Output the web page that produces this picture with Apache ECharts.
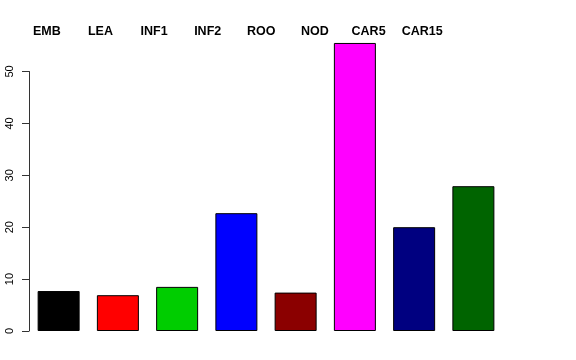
<!DOCTYPE html>
<html><head><meta charset="utf-8">
<script src="https://cdn.jsdelivr.net/npm/echarts@6/dist/echarts.min.js"></script>
<style>html,body{margin:0;padding:0;background:#fff}#c{width:576px;height:360px}</style>
</head><body><div id="c"></div>
<script>
const categories = ["EMB","LEA","INF1","INF2","ROO","NOD","CAR5","CAR15"];
const values = [7.7, 6.9, 8.5, 22.7, 7.4, 55.5, 20.0, 27.9];
const barColors = ["#000000","#FF0000","#00CD00","#0000FF","#8B0000","#FF00FF","#000080","#006400"];
const yTicks = [0,10,20,30,40,50];

const chart = echarts.init(document.getElementById('c'), null, {renderer:'canvas'});
chart.setOption({
  animation:false,
  backgroundColor:'#fff',
  grid:[
    {left:29, right:73, top:71.5, bottom:29},
    {left:20, right:127, top:71.5, bottom:29}
  ],
  xAxis:[
    {type:'category', data:categories, gridIndex:0, axisLine:{show:false}, axisTick:{show:false}, axisLabel:{show:false}},
    {type:'category', data:categories, gridIndex:1, position:'top', axisLine:{show:false}, axisTick:{show:false},
     axisLabel:{show:true, fontFamily:'Liberation Sans', fontWeight:'bold', fontSize:12.5, color:'#000', margin:33}}
  ],
  yAxis:[
    {type:'value', gridIndex:0, min:yTicks[0], max:yTicks[yTicks.length-1], interval:10,
     axisLine:{show:true, lineStyle:{color:'#333', width:1}},
     axisTick:{show:true, length:7, lineStyle:{color:'#333'}},
     splitLine:{show:false},
     axisLabel:{rotate:90, margin:14, fontFamily:'Liberation Sans', fontSize:11, color:'#000'}},
    {type:'value', gridIndex:1, show:false}
  ],
  series:[{
    type:'bar', xAxisIndex:0, yAxisIndex:0, clip:false, barWidth:42,
    data: values.map((v,i)=>({value:v, itemStyle:{color:barColors[i]}})),
    itemStyle:{borderColor:'#000', borderWidth:1}
  }]
});
</script></body></html>
